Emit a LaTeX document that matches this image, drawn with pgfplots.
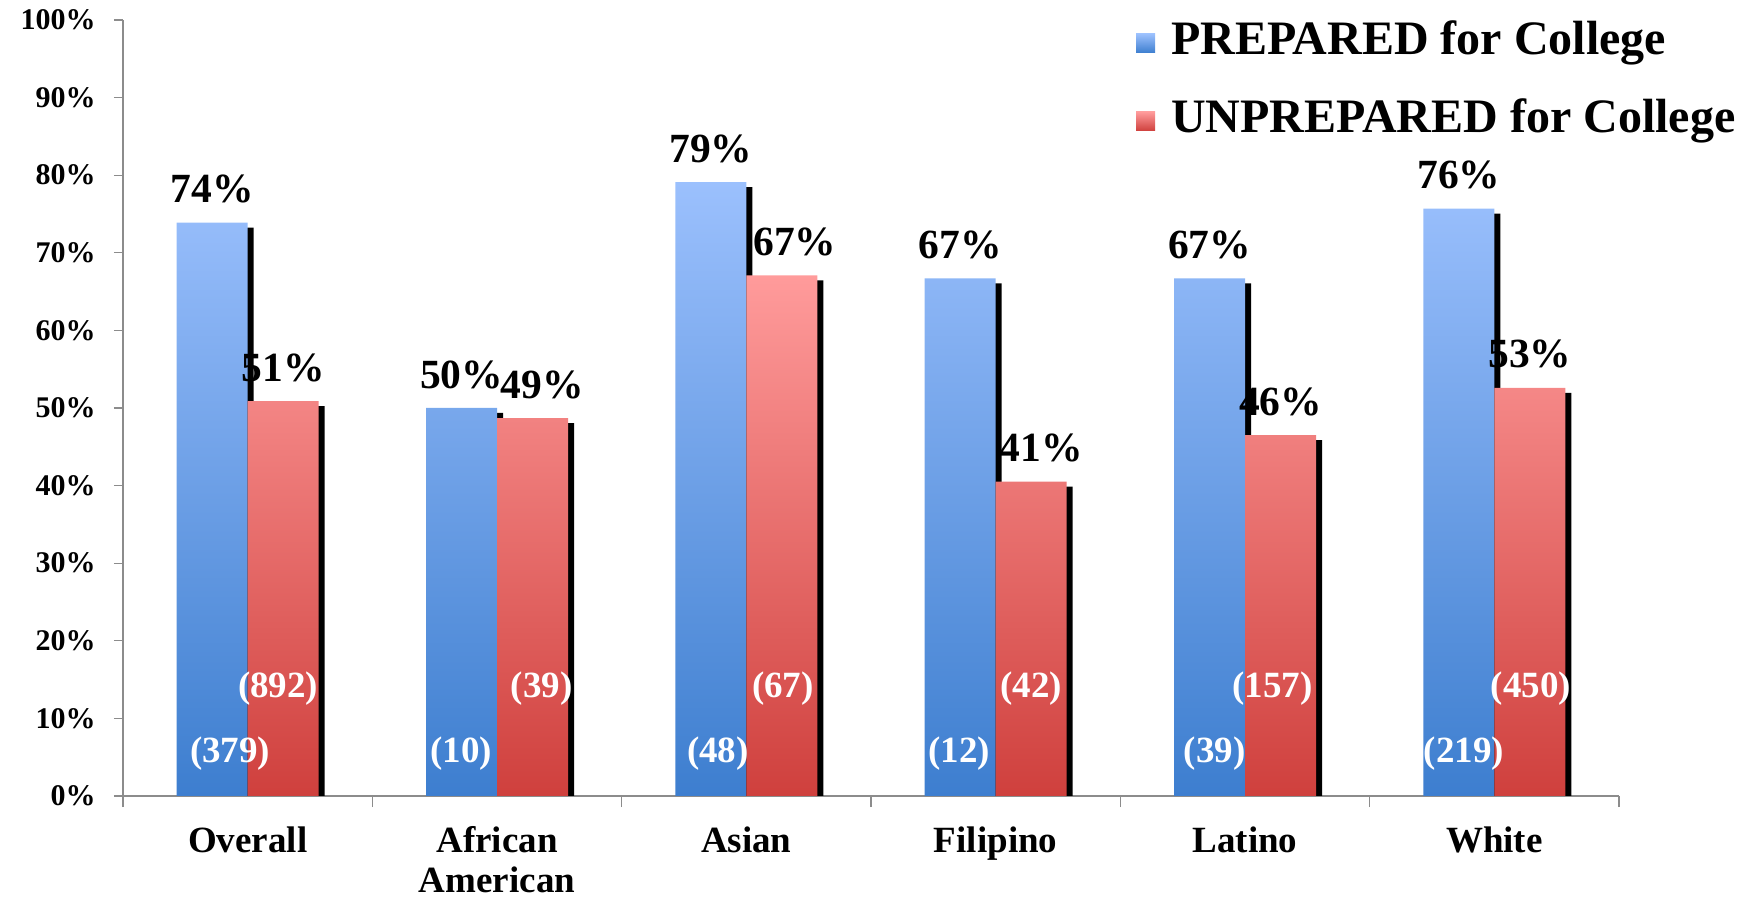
\documentclass[border=0pt]{standalone}
\usepackage{fontspec}
\setmainfont{Liberation Serif}
\usepackage{pgfplots}
\pgfplotsset{compat=1.18}
\usepackage{pgfplotstable}
\definecolor{bluetop}{HTML}{9BC0FD}
\definecolor{bluebot}{HTML}{3D7ECF}
\definecolor{redtop}{HTML}{FF9B9B}
\definecolor{redbot}{HTML}{CF403D}
\definecolor{axgray}{HTML}{8C8C8C}

\pgfplotstableread{
x prep preplab
0 73.9 74\%
1 50.0 50\%
2 79.1 79\%
3 66.7 67\%
4 66.7 67\%
5 75.7 76\%
}\prepdata
\pgfplotstableread{
x unprep unpreplab
0 50.9 51\%
1 48.7 \kern10pt49\%
2 67.1 \kern13pt67\%
3 40.5 \kern10pt41\%
4 46.5 46\%
5 52.6 53\%
}\unprepdata

\begin{document}
\begin{tikzpicture}
\useasboundingbox (-61.5pt,-51.5pt) rectangle (816.5pt,398pt);
\begin{axis}[
  at={(0pt,0pt)}, anchor=south west,
  scale only axis, width=748pt, height=388pt,
  ymin=0, ymax=100, xmin=-0.5, xmax=5.5,
  ybar=0pt, bar width=35.5pt,
  axis lines*=left,
  axis line style={draw=axgray, line width=0.6pt},
  ytick={0,10,...,100},
  yticklabel={\pgfmathprintnumber{\tick}\%},
  /pgf/number format/assume math mode=true,
  yticklabel style={font=\fontsize{15}{18}\selectfont\bfseries, anchor=east, inner sep=0pt, xshift=-9pt},
  ytick style={draw=axgray, line width=0.6pt},
  major tick length=4.5pt,
  tick align=outside,
  xtick={0,...,5},
  xticklabels={Overall, African\\American, Asian, Filipino, Latino, White},
  xtick style={draw=none},
  xticklabel style={font=\fontsize{18.5}{20}\selectfont\bfseries, align=center, anchor=north, inner sep=0pt, yshift=-10.5pt},
  extra x ticks={-0.5,0.5,...,5.5},
  extra x tick labels={},
  extra x tick style={xtick style={draw=axgray, line width=0.6pt}, major tick length=5.5pt, tick align=outside},
  point meta=explicit symbolic,
  legend style={at={(axis description cs:0.677,0.9987)}, anchor=north west, draw=none, fill=none,
    font=\fontsize{24}{28}\selectfont\bfseries, row sep=17pt, inner sep=0pt,
    nodes={inner sep=0pt, text height=16.5pt, text depth=5.5pt}},
  legend cell align=left,
  lbl/.style={nodes near coords, nodes near coords style={font=\fontsize{20.75}{24}\selectfont\bfseries, anchor=south, inner sep=0pt, yshift=9.5pt, text=black}},
]
% shadows
\addplot[fill=black, draw=none, bar shift=-14.75pt, yshift=-2.5pt, forget plot]
  table[x=x, y=prep] {\prepdata};
\addplot[draw=none, top color=bluetop, bottom color=bluebot, bar shift=-17.75pt, lbl,
  legend image code/.code={\path[top color=bluetop, bottom color=bluebot] (0pt,-4.75pt) rectangle (9.5pt,4.75pt); \path (9.5pt,0pt) -- (17.5pt,0pt);}]
  table[x=x, y=prep, meta=preplab] {\prepdata};
\addlegendentry{PREPARED for College}
\addplot[fill=black, draw=none, bar shift=20.75pt, yshift=-2.5pt, forget plot]
  table[x=x, y=unprep] {\unprepdata};
\addplot[draw=none, top color=redtop, bottom color=redbot, bar shift=17.75pt, lbl,
  legend image code/.code={\path[top color=redtop, bottom color=redbot] (0pt,-4.75pt) rectangle (9.5pt,4.75pt); \path (9.5pt,0pt) -- (17.5pt,0pt);}]
  table[x=x, y=unprep, meta=unpreplab] {\unprepdata};
\addlegendentry{UNPREPARED for College}
\begin{scope}[every node/.style={font=\fontsize{18.5}{22}\selectfont\bfseries, text=white, inner sep=0pt}]
\node at (axis cs:-0.070,5.5) {(379)};
\node at (axis cs:0.857,5.5) {(10)};
\node at (axis cs:1.886,5.5) {(48)};
\node at (axis cs:2.853,5.5) {(12)};
\node at (axis cs:3.878,5.5) {(39)};
\node at (axis cs:4.878,5.5) {(219)};
\node at (axis cs:0.122,13.9) {(892)};
\node at (axis cs:1.179,13.9) {(39)};
\node at (axis cs:2.147,13.9) {(67)};
\node at (axis cs:3.143,13.9) {(42)};
\node at (axis cs:4.110,13.9) {(157)};
\node at (axis cs:5.147,13.9) {(450)};
\end{scope}
\end{axis}
\end{tikzpicture}
\end{document}
